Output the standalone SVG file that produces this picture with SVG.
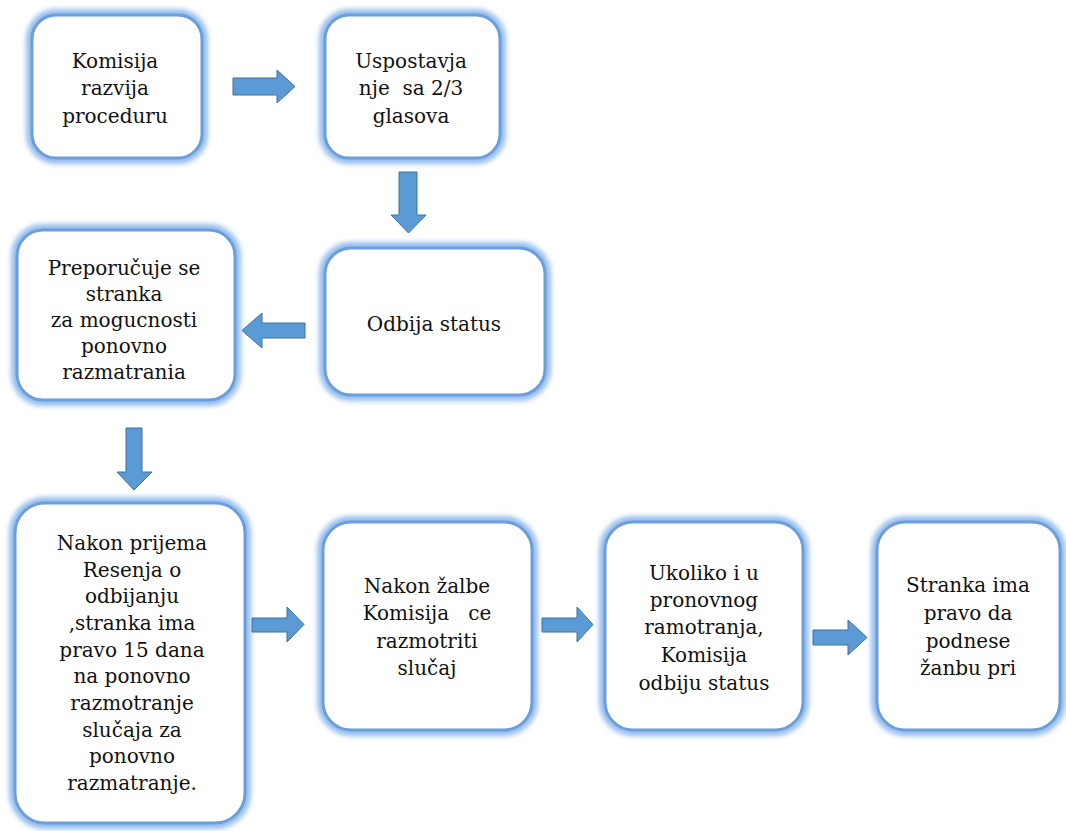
<svg xmlns="http://www.w3.org/2000/svg" width="1066" height="831" viewBox="0 0 1066 831">
<defs>
<filter id="glow" x="-10%" y="-10%" width="120%" height="120%">
<feGaussianBlur stdDeviation="2.8"/>
</filter>
<style>
.glow{fill:none;stroke:#95bdee;stroke-width:12;filter:url(#glow)}
.box{fill:#ffffff;stroke:#6b9fdc;stroke-width:3}
.t{font-family:"DejaVu Serif","Liberation Serif",serif;font-size:20px;fill:#111;text-anchor:middle}
.arr{fill:#5b9bd5;stroke:#41719c;stroke-width:1}
</style>
</defs>
<rect width="1066" height="831" fill="#ffffff"/>
<g id="n1">
<rect class="glow" x="32" y="15" width="170" height="143" rx="24"/>
<rect class="box" x="32" y="15" width="170" height="143" rx="24"/>
<text class="t" x="115" y="68">Komisija</text>
<text class="t" x="115" y="95">razvija</text>
<text class="t" x="115" y="123">proceduru</text>
</g>
<g id="n2">
<rect class="glow" x="325" y="15" width="175" height="143" rx="24"/>
<rect class="box" x="325" y="15" width="175" height="143" rx="24"/>
<text class="t" x="411" y="68">Uspostavja</text>
<text class="t" x="411" y="95" xml:space="preserve">nje  sa 2/3</text>
<text class="t" x="411" y="123">glasova</text>
</g>
<g id="n3">
<rect class="glow" x="325" y="248" width="220" height="147" rx="26"/>
<rect class="box" x="325" y="248" width="220" height="147" rx="26"/>
<text class="t" x="434" y="331">Odbija status</text>
</g>
<g id="n4">
<rect class="glow" x="17" y="230" width="218" height="170" rx="26"/>
<rect class="box" x="17" y="230" width="218" height="170" rx="26"/>
<text class="t" x="124" y="275">Preporučuje se</text>
<text class="t" x="124" y="301">stranka</text>
<text class="t" x="124" y="327">za mogucnosti</text>
<text class="t" x="124" y="353">ponovno</text>
<text class="t" x="124" y="379">razmatrania</text>
</g>
<g id="n5">
<rect class="glow" x="15" y="503" width="230" height="320" rx="30"/>
<rect class="box" x="15" y="503" width="230" height="320" rx="30"/>
<text class="t" x="132" y="550">Nakon prijema</text>
<text class="t" x="132" y="577">Resenja o</text>
<text class="t" x="132" y="603">odbijanju</text>
<text class="t" x="132" y="630">,stranka ima</text>
<text class="t" x="132" y="657">pravo 15 dana</text>
<text class="t" x="132" y="683">na ponovno</text>
<text class="t" x="132" y="710">razmotranje</text>
<text class="t" x="132" y="737">slučaja za</text>
<text class="t" x="132" y="763">ponovno</text>
<text class="t" x="132" y="790">razmatranje.</text>
</g>
<g id="n6">
<rect class="glow" x="323" y="522" width="209" height="208" rx="28"/>
<rect class="box" x="323" y="522" width="209" height="208" rx="28"/>
<text class="t" x="427" y="593">Nakon žalbe</text>
<text class="t" x="427" y="620" xml:space="preserve">Komisija   ce</text>
<text class="t" x="427" y="648">razmotriti</text>
<text class="t" x="427" y="675">slučaj</text>
</g>
<g id="n7">
<rect class="glow" x="605" y="522" width="198" height="208" rx="28"/>
<rect class="box" x="605" y="522" width="198" height="208" rx="28"/>
<text class="t" x="704" y="580">Ukoliko i u</text>
<text class="t" x="704" y="607">pronovnog</text>
<text class="t" x="704" y="634">ramotranja,</text>
<text class="t" x="704" y="662">Komisija</text>
<text class="t" x="704" y="690">odbiju status</text>
</g>
<g id="n8">
<rect class="glow" x="877" y="522" width="183" height="208" rx="28"/>
<rect class="box" x="877" y="522" width="183" height="208" rx="28"/>
<text class="t" x="968" y="592">Stranka ima</text>
<text class="t" x="968" y="620">pravo da</text>
<text class="t" x="968" y="648">podnese</text>
<text class="t" x="968" y="675">žanbu pri</text>
</g>
<g id="connectors">
<polygon class="arr" points="233,78 277,78 277,70 295,86.5 277,103 277,95 233,95"/>
<polygon class="arr" points="399,172 417,172 417,215 426,215 408.5,233 391,215 399,215"/>
<polygon class="arr" points="305,323 262,323 262,313 242,330.5 262,348 262,338 305,338"/>
<polygon class="arr" points="126,428 142,428 142,472 152,472 134,490 117,472 126,472"/>
<polygon class="arr" points="252,618 287,618 287,607 304,624.5 287,642 287,632 252,632"/>
<polygon class="arr" points="542,618 577,618 577,607 593,624.5 577,642 577,632 542,632"/>
<polygon class="arr" points="813,630 848,630 848,620 867,637.5 848,655 848,645 813,645"/>
</g>
</svg>
